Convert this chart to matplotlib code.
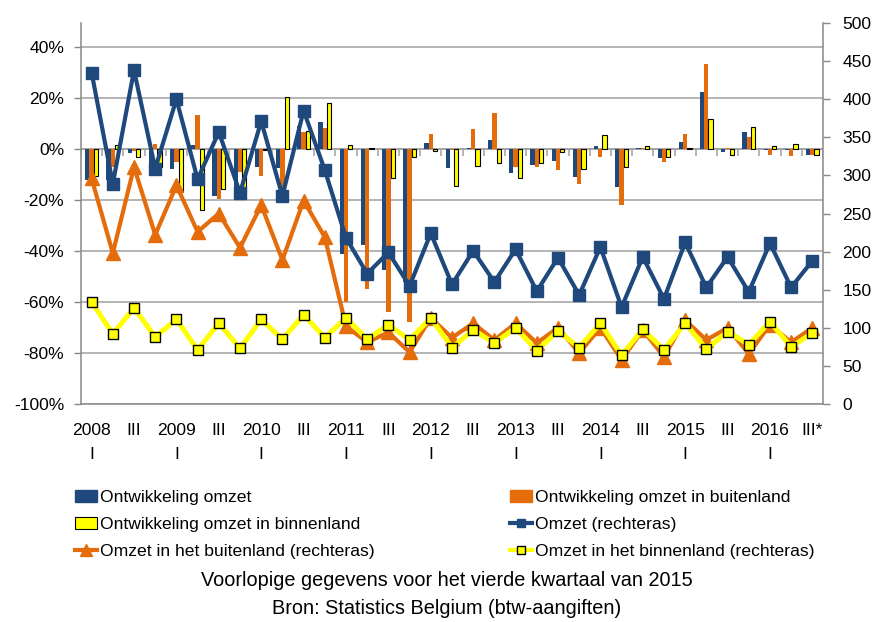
import numpy as np
import matplotlib
matplotlib.use("Agg")
import matplotlib.pyplot as plt
from matplotlib.patches import Patch
from matplotlib.lines import Line2D

plt.rcParams['font.family'] = ['Liberation Sans', 'DejaVu Sans']
plt.rcParams['font.size'] = 12.6

# quarters 2008 Q1 .. 2016 Q3
years = list(range(2008, 2017))
n_q = 35

# growth rates (%), left axis
ontw_omzet = [-12, -12, -1.5, -7, -8, 1.5, -18.5, -17, -7, -7.5, 9, 10.6,
              -41, -37.6, -47.5, -52, 2.4, -7.5, 0.5, 3.5, -9.4, -6.3, -4.7, -11,
              1.2, -15, 0.3, -3.7, 2.6, 22.3, -1, 6.5, -0.3, -0.3, -2.4]
ontw_buiten = [-11, -7, -0.8, 2, -5, 13.5, -19.6, -9, -10.6, -16, 6.7, 8.2,
               -60, -55, -64, -68, 5.9, -0.5, 7.8, 14, -7, -7, -8.3, -13.7,
               -3.1, -22, 0.3, -5, 5.9, 33.3, 0.3, 4.8, -2.4, -2.6, -2.4]
ontw_binnen = [-10.6, 1.5, -3, -7, -17, -24, -15.7, -17, -0.5, 20.4, 7, 18,
               1.5, 0.5, -11.5, -3, -0.8, -14.5, -6.7, -5.5, -11.5, -5.5, -1.2, -7.8,
               5.5, -7, 1.3, -3.3, 0.3, 11.6, -2.4, 8.6, 1.3, 2, -2.4]

# levels, right axis
omzet = [435, 289, 438, 309, 400, 295, 357, 277, 371, 273, 385, 307,
         218, 171, 199, 155, 224, 157, 201, 160, 203, 148, 192, 143,
         206, 127, 193, 138, 212, 153, 193, 147, 211, 153, 188]
omzet_buiten = [296, 198, 311, 222, 287, 226, 250, 205, 261, 189, 267, 219,
                102, 81, 94, 68, 113, 87, 106, 84, 106, 80, 100, 67,
                100, 58, 97, 62, 110, 84, 100, 66, 104, 81, 100]
omzet_binnen = [134, 92, 126, 88, 111, 71, 106, 73, 111, 85, 117, 87,
                113, 85, 104, 84, 113, 74, 97, 80, 100, 70, 96, 74,
                106, 64, 98, 71, 106, 72, 95, 78, 108, 75, 93]

labels = []
for i in range(n_q):
    q = i % 4
    if q == 0:
        labels.append(f"{years[i // 4]}\nI")
    elif q == 2:
        labels.append("III")
    else:
        labels.append("")
labels[-1] = "III*"

BLUE = '#1F497D'
ORANGE = '#E46C0A'
YELLOW = '#FFFF00'
GRID = '#A0A0A0'
AXC = '#888888'

fig = plt.figure(figsize=(8.74, 6.22), dpi=100)
ax = fig.add_axes([0.0927, 0.3505, 0.8489, 0.6125])
ax2 = ax.twinx()

x = np.arange(n_q)
w = 0.2
ax.bar(x - w, ontw_omzet, w, color=BLUE, zorder=2)
ax.bar(x, ontw_buiten, w, color=ORANGE, zorder=2)
ax.bar(x + w, ontw_binnen, w, color=YELLOW, edgecolor='black', linewidth=0.8, zorder=2)

ax.set_xlim(-0.5, n_q - 0.5)
ax.set_ylim(-100, 49.4)
ax.set_yticks(range(-100, 41, 20))
ax.set_yticklabels([f"{v}%" for v in range(-100, 41, 20)])
ax.yaxis.grid(True, color=GRID, linewidth=1.1)
ax.set_axisbelow(True)

# category axis at zero with small tick marks
ax.axhline(0, color=GRID, linewidth=1.1, zorder=1)
ax.vlines(np.arange(n_q + 1) - 0.5, -2.7, 0, color=GRID, linewidth=1.1, zorder=1)

ax.set_xticks(x)
ax.set_xticklabels(labels, linespacing=1.7)
ax.tick_params(axis='x', length=0, pad=14)
ax.tick_params(axis='y', length=5, width=1, color=AXC, pad=7)

for s in ['top', 'right']:
    ax.spines[s].set_visible(False)
for s in ['left', 'bottom']:
    ax.spines[s].set_color(AXC)
    ax.spines[s].set_linewidth(1.1)

ax2.plot(x, omzet, color=BLUE, lw=3, marker='s', ms=8, mfc=BLUE, mec=BLUE, zorder=3)
ax2.plot(x, omzet_buiten, color=ORANGE, lw=3, marker='^', ms=9.5, mfc=ORANGE, mec=ORANGE, zorder=4)
ax2.plot(x, omzet_binnen, color=YELLOW, lw=3.6, marker='s', ms=7.5, mfc=YELLOW, mec='black',
         mew=1, zorder=5)
ax2.set_ylim(0, 500)
ax2.set_yticks(range(0, 501, 50))
ax2.tick_params(axis='y', length=5, width=1, color=AXC, pad=9)
for s in ['top', 'left', 'bottom']:
    ax2.spines[s].set_visible(False)
ax2.spines['right'].set_color(AXC)
ax2.spines['right'].set_linewidth(1.1)

left_handles = [
    Patch(facecolor=BLUE, edgecolor=BLUE),
    Patch(facecolor=YELLOW, edgecolor='black', linewidth=0.8),
    Line2D([], [], color=ORANGE, lw=3, marker='^', ms=8, mfc=ORANGE, mec=ORANGE),
]
left_labels = ["Ontwikkeling omzet", "Ontwikkeling omzet in binnenland",
               "Omzet in het buitenland (rechteras)"]
right_handles = [
    Patch(facecolor=ORANGE, edgecolor=ORANGE),
    Line2D([], [], color=BLUE, lw=3, marker='s', ms=6, mfc=BLUE, mec=BLUE),
    Line2D([], [], color=YELLOW, lw=3, marker='s', ms=6, mfc=YELLOW, mec='black', mew=1),
]
right_labels = ["Ontwikkeling omzet in buitenland", "Omzet (rechteras)",
                "Omzet in het binnenland (rechteras)"]

leg_kw = dict(loc='upper left', frameon=False, borderpad=0, borderaxespad=0,
              handlelength=1.26, handletextpad=0.17, labelspacing=0.66)
fig.legend(left_handles, left_labels, bbox_to_anchor=(0.0858, 0.212), **leg_kw)
fig.legend(right_handles, right_labels, bbox_to_anchor=(0.5835, 0.212), **leg_kw)

fig.text(0.511, 1 - 581 / 622, "Voorlopige gegevens voor het vierde kwartaal van 2015",
         ha='center', va='center', fontsize=14.3)
fig.text(0.511, 1 - 608 / 622, "Bron: Statistics Belgium (btw-aangiften)",
         ha='center', va='center', fontsize=14.3)

fig.savefig('out.png', dpi=100)
